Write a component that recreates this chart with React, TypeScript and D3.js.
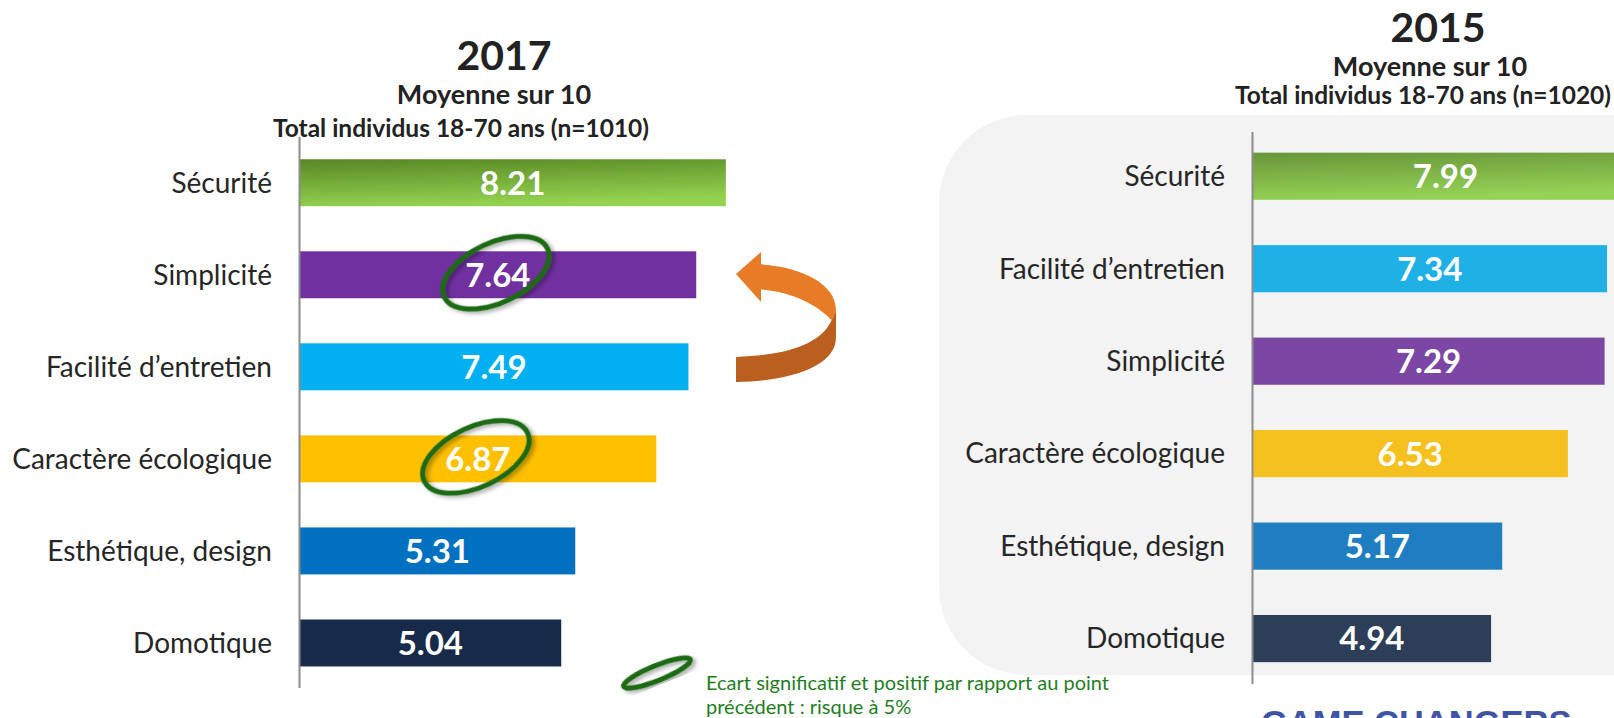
import React from "react";
import * as d3 from "d3";

const W = 1614;
const H = 718;

// 2017 wave
const cats2017 = ["Sécurité", "Simplicité", "Facilité d’entretien", "Caractère écologique", "Esthétique, design", "Domotique"];
const vals2017 = [8.21, 7.64, 7.49, 6.87, 5.31, 5.04];
const signif2017 = ["Simplicité", "Caractère écologique"];

// 2015 wave
const cats2015 = ["Sécurité", "Facilité d’entretien", "Simplicité", "Caractère écologique", "Esthétique, design", "Domotique"];
const vals2015 = [7.99, 7.34, 7.29, 6.53, 5.17, 4.94];

const colors2017: Record<string, string> = {
  "Sécurité": "url(#green2017)",
  "Simplicité": "#7030a0",
  "Facilité d’entretien": "#00b0f0",
  "Caractère écologique": "#ffc000",
  "Esthétique, design": "#0070c0",
  "Domotique": "#172a49",
};
const colors2015: Record<string, string> = {
  "Sécurité": "url(#green2015)",
  "Simplicité": "#7c46a4",
  "Facilité d’entretien": "#1fb1e6",
  "Caractère écologique": "#f4c11f",
  "Esthétique, design": "#1f7dc1",
  "Domotique": "#2d3e59",
};

const FONT = "Lato, 'Open Sans', sans-serif";

type PanelProps = {
  cats: string[];
  vals: number[];
  colors: Record<string, string>;
  signif?: string[];
  x0: number;
  unit: number;
  yTop: number;
  yBottom: number;
  labelX: number;
  axisTop: number;
  axisBottom: number;
};

const Panel = ({ cats, vals, colors, signif = [], x0, unit, yTop, yBottom, labelX, axisTop, axisBottom }: PanelProps) => {
  const x = d3.scaleLinear().domain([0, 10]).range([x0, x0 + unit * 10]);
  const y = d3.scaleBand<string>().domain(cats).range([yTop, yBottom]).paddingInner(0.49).paddingOuter(0.245);
  const bw = y.bandwidth();
  return (
    <g>
      {cats.map((c, i) => {
        const yc = (y(c) as number) + bw / 2;
        const xm = (x(0) + x(vals[i])) / 2;
        return (
          <g key={c}>
            <text x={labelX} y={yc} dy="0.35em" textAnchor="end" fontFamily={FONT} fontSize={28} fill="#262626">
              {c}
            </text>
            <rect x={x(0)} y={y(c)} width={x(vals[i]) - x(0)} height={bw} fill={colors[c]} />
            <text x={xm} y={yc} dy="0.36em" textAnchor="middle" fontFamily={FONT} fontWeight={700} fontSize={33} fill="#fff">
              {vals[i].toFixed(2)}
            </text>
            {signif.includes(c) && (
              <ellipse
                cx={xm - 2}
                cy={yc - 2}
                rx={57}
                ry={30}
                transform={`rotate(-25 ${xm - 2} ${yc - 2})`}
                fill="none"
                stroke="#1d6b12"
                strokeWidth={5}
                filter="url(#shadow)"
              />
            )}
          </g>
        );
      })}
      <line x1={x0} x2={x0} y1={axisTop} y2={axisBottom} stroke="#8c8c8c" strokeWidth={2} />
    </g>
  );
};

const Titles = ({ cx, year, n, b1, b2, b3 }: { cx: number[]; year: string; n: string; b1: number; b2: number; b3: number }) => (
  <g fontFamily={FONT} fontWeight={700} fill="#222" textAnchor="middle">
    <text x={cx[0]} y={b1} fontSize={41}>{year}</text>
    <text x={cx[1]} y={b2} fontSize={27}>Moyenne sur 10</text>
    <text x={cx[2]} y={b3} fontSize={24.5}>{`Total individus 18-70 ans (n=${n})`}</text>
  </g>
);

export default function App() {
  return (
    <svg width={W} height={H} style={{ position: "absolute", left: 0, top: 0, display: "block", background: "#fff" }}>
      <defs>
        <linearGradient id="green2017" x1="0" y1="0" x2="0.25" y2="1">
          <stop offset="0" stopColor="#578725" />
          <stop offset="1" stopColor="#93d24f" />
        </linearGradient>
        <linearGradient id="green2015" x1="0" y1="0" x2="0.25" y2="1">
          <stop offset="0" stopColor="#68963a" />
          <stop offset="1" stopColor="#95d255" />
        </linearGradient>
        <filter id="shadow" x="-30%" y="-30%" width="160%" height="160%">
          <feDropShadow dx="2" dy="3" stdDeviation="2" floodColor="#000" floodOpacity="0.35" />
        </filter>
      </defs>

      {/* grey background of the 2015 block */}
      <rect x={939} y={115} width={900} height={560} rx={88} ry={88} fill="#f3f3f3" />

      <Titles cx={[504, 494, 461]} year="2017" n="1010" b1={70} b2={104} b3={137} />
      <Titles cx={[1438, 1430, 1423]} year="2015" n="1020" b1={42} b2={76} b3={104} />

      <Panel
        cats={cats2017}
        vals={vals2017}
        colors={colors2017}
        signif={signif2017}
        x0={299.5}
        unit={51.93}
        yTop={136.7}
        yBottom={689}
        labelX={272}
        axisTop={137}
        axisBottom={688}
      />
      <Panel
        cats={cats2015}
        vals={vals2015}
        colors={colors2015}
        x0={1252.5}
        unit={48.3}
        yTop={130}
        yBottom={684.8}
        labelX={1225}
        axisTop={132}
        axisBottom={684}
      />

      {/* orange turn-back arrow */}
      <g>
        <path d="M836,310 L836,337 C836,366 792,381 736,382 L736,357 C792,355 822,342 831.7,320 Z" fill="#bb5f1e" />
        <path d="M760.7,264.3 C802,267 836,284 836,310 L831.7,320 C816,304 792,292 760.7,289.3 Z" fill="#e87b25" />
        <path d="M736,274 L761,252 L761,302 Z" fill="#e87b25" />
      </g>

      {/* legend */}
      <ellipse cx={657} cy={673} rx={36} ry={7.5} transform="rotate(-22 657 673)" fill="none" stroke="#1d6b12" strokeWidth={5} filter="url(#shadow)" />
      <g fontFamily={FONT} fontSize={20} fill="#1e7e1e">
        <text x={706} y={690}>Ecart significatif et positif par rapport au point</text>
        <text x={706} y={714}>précédent : risque à 5%</text>
      </g>

      <text x={1261} y={735} fontFamily="'Liberation Sans', Arial, sans-serif" fontWeight={700} fontSize={34.5} fill="#3f54a5">
        GAME CHANGERS
      </text>
    </svg>
  );
}
